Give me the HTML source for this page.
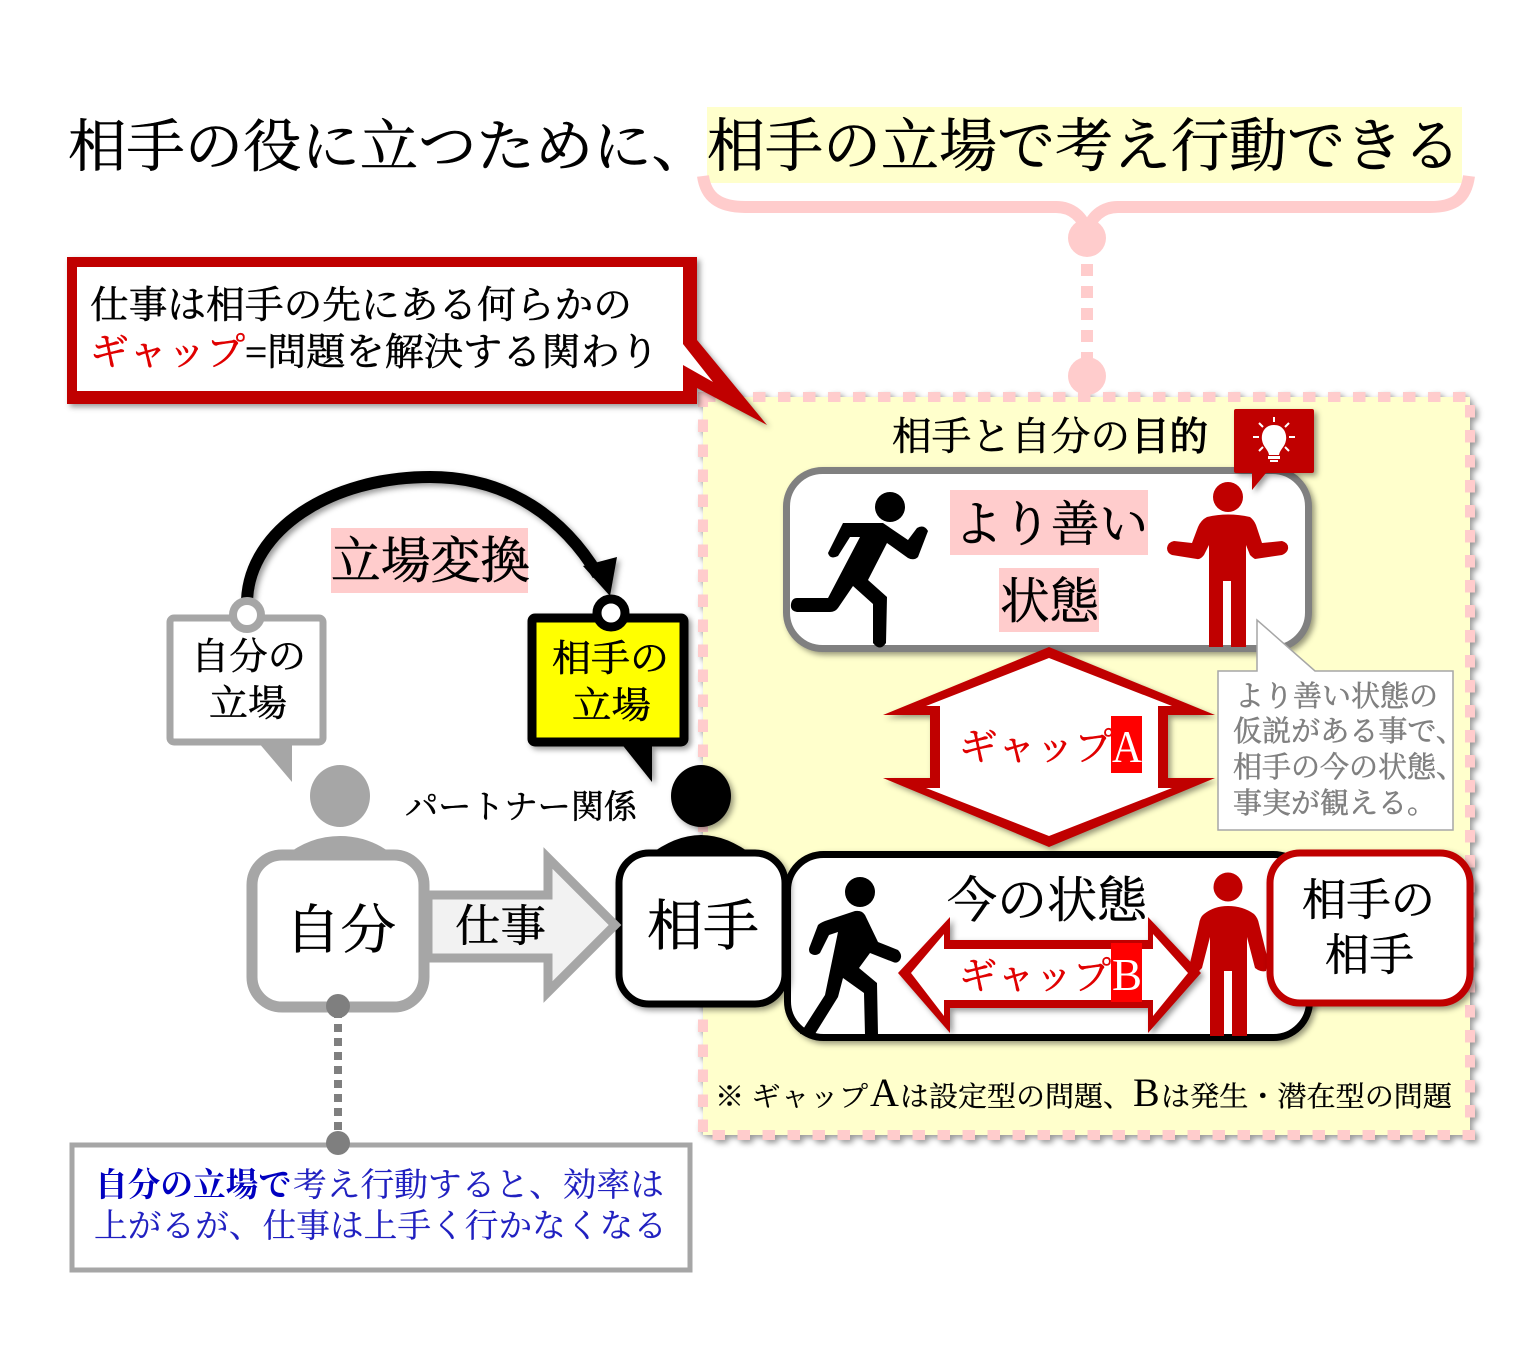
<!DOCTYPE html>
<html><head><meta charset="utf-8"><style>
html,body{margin:0;padding:0;background:#fff}
svg{display:block}
text{font-family:"Liberation Serif","Noto Serif CJK SC","Noto Serif CJK JP",serif;fill:currentColor;stroke:currentColor;stroke-width:.55;color:#000}
.s{filter:drop-shadow(3px 3px 3px rgba(0,0,0,.4))}
</style></head><body>
<svg width="1522" height="1350" viewBox="0 0 1522 1350" xmlns="http://www.w3.org/2000/svg">
<rect width="1522" height="1350" fill="#fff"/>
<!-- title -->
<rect x="707" y="107" width="755" height="76" fill="#ffffcc"/>
<text x="68" y="166" font-size="57" textLength="642" lengthAdjust="spacingAndGlyphs">相手の役に立つために、</text>
<text x="707" y="166" font-size="58" textLength="754" lengthAdjust="spacingAndGlyphs">相手の立場で考え行動できる</text>
<!-- brace -->
<path d="M703 176C706 198 720 207 745 207H1056C1072 207 1083 217 1087 232C1091 217 1102 207 1118 207H1430C1455 207 1466 198 1469 176" fill="none" stroke="#ffcccc" stroke-width="12"/>
<!-- panel -->
<g class="s"><rect x="703" y="397" width="767" height="738" fill="#ffffcc" stroke="#ffcccc" stroke-width="10" stroke-dasharray="12.500 12.500"/></g>
<circle cx="1087" cy="238" r="19" fill="#ffcccc"/>
<line x1="1087" y1="264" x2="1087" y2="358" stroke="#ffcccc" stroke-width="12" stroke-dasharray="12 10"/>
<circle cx="1087" cy="376" r="19" fill="#ffcccc"/>
<!-- callout -->
<g class="s"><path d="M67 257H697V340L767 425L697 388V404H67Z" fill="#c00000"/></g>
<path d="M77 267H683V344L713 382L683 365V391H77Z" fill="#fff"/>
<text x="90" y="318" font-size="38" textLength="542" lengthAdjust="spacingAndGlyphs">仕事は相手の先にある何らかの</text>
<text x="90" y="365" font-size="38" textLength="155" lengthAdjust="spacingAndGlyphs" style="color:#e00000">ギャップ</text>
<text x="245" y="365" font-size="38" textLength="414" lengthAdjust="spacingAndGlyphs">=問題を解決する関わり</text>
<text x="892" y="450" font-size="39" textLength="238" lengthAdjust="spacingAndGlyphs">相手と自分の</text>
<text x="1131" y="450" font-size="39" textLength="77" lengthAdjust="spacingAndGlyphs" style="stroke-width:1.2">目的</text>
<!-- upper box -->
<g class="s"><rect x="786.500" y="470.500" width="522" height="178" rx="36" fill="#fff" stroke="#808080" stroke-width="7"/></g>
<rect x="950" y="490" width="198" height="65" fill="#ffcccc"/>
<rect x="999" y="568" width="100" height="64" fill="#ffcccc"/>
<text x="954" y="541" font-size="49" textLength="194" lengthAdjust="spacingAndGlyphs">より善い</text>
<text x="1000" y="618" font-size="49" textLength="99" lengthAdjust="spacingAndGlyphs">状態</text>
<!-- runner -->
<circle cx="890" cy="507" r="15" fill="#000"/>
<path d="M843 523H883L908 540L917 528Q924 524 928 531L918 557Q914 561 908 558L887 543L868 580L887 597L886 643Q880 652 873 643L873 604L853 586L838 608Q835 612 830 612H797Q790 611 791 604Q792 598 797 598H828L860 537H850L838 556Q830 560 828 553Z" fill="#000"/>
<!-- red man shrug -->
<circle cx="1228" cy="497" r="15" fill="#c00000"/>
<path d="M1207 517Q1228 512 1250 517Q1254 520 1256 525L1262 543L1282 541Q1289 543 1288 549Q1287 553 1282 555L1255 559Q1253 558 1250 555L1246 545V647H1231V581H1223V647H1209V545L1204 555Q1200 560 1197 559L1172 555Q1167 553 1167 548Q1168 542 1174 541L1192 543L1198 527Q1201 520 1207 517Z" fill="#c00000"/>
<!-- bulb -->
<g class="s"><path d="M1236 409H1312Q1314 409 1314 411V471Q1314 473 1312 473H1266L1252 490V473H1236Q1234 473 1234 471V411Q1234 409 1236 409Z" fill="#c00000"/></g>
<path d="M1274 425C1264 425 1261 434 1262 440C1263 447 1268 449 1269 455H1279C1280 449 1285 447 1286 440C1287 434 1284 425 1274 425Z" fill="#fff"/>
<rect x="1268" y="456" width="12" height="3" fill="#fff"/><rect x="1270" y="460" width="8" height="2" fill="#fff"/>
<g stroke="#fff" stroke-width="2"><line x1="1274" y1="417" x2="1274" y2="422"/><line x1="1253" y1="437" x2="1259" y2="437"/><line x1="1289" y1="437" x2="1295" y2="437"/><line x1="1259" y1="423" x2="1263" y2="427"/><line x1="1289" y1="423" x2="1285" y2="427"/><line x1="1259" y1="451" x2="1263" y2="447"/><line x1="1289" y1="451" x2="1285" y2="447"/></g>
<!-- arrow A -->
<g class="s"><path d="M1049 647L1215 715H1168V778H1215L1049 847L883 778H930V715H883Z" fill="#c00000"/></g>
<path d="M1049 658L1172 706H1158V788H1172L1049 836L926 788H940V706H926Z" fill="#fff"/>
<text x="959" y="760" font-size="38" textLength="154" lengthAdjust="spacingAndGlyphs" style="color:#e00000">ギャップ</text>
<rect x="1111" y="716" width="31" height="57" fill="#ff0000"/>
<text x="1112" y="762" font-size="46" textLength="30" lengthAdjust="spacingAndGlyphs" style="color:#fff;stroke-width:0">A</text>
<!-- note -->
<path d="M1218 671H1257V620L1315 671H1453V830H1218Z" fill="#fff" stroke="#a6a6a6" stroke-width="1.500"/>
<text x="1235" y="706" font-size="29" textLength="203" lengthAdjust="spacingAndGlyphs" style="color:#808080">より善い状態の</text>
<text x="1233" y="741" font-size="29" textLength="232" lengthAdjust="spacingAndGlyphs" style="color:#808080">仮説がある事で、</text>
<text x="1233" y="777" font-size="29" textLength="232" lengthAdjust="spacingAndGlyphs" style="color:#808080">相手の今の状態、</text>
<text x="1233" y="813" font-size="29" textLength="203" lengthAdjust="spacingAndGlyphs" style="color:#808080">事実が観える。</text>
<!-- lower box -->
<g class="s"><rect x="787.500" y="854.500" width="522" height="183" rx="36" fill="#fff" stroke="#000" stroke-width="7"/></g>
<text x="947" y="917" font-size="49" textLength="200" lengthAdjust="spacingAndGlyphs">今の状態</text>
<!-- walker -->
<circle cx="860" cy="892" r="15" fill="#000"/>
<path d="M855 911Q862 910 865 915L878 942L898 950Q903 955 900 960Q897 964 893 962L870 953L859 968L877 983L878 1035H865L864 993L843 978L838 997L815 1034H800L825 995L838 932L829 935L820 953Q815 957 810 953Q808 950 810 946L818 925Q820 923 825 921Z" fill="#000"/>
<!-- arrow B -->
<g class="s"><path d="M898 973L950 917V940H1148V917L1201 973L1148 1033V1008H950V1033Z" fill="#c00000"/></g>
<path d="M911 973L944 934V949H1153V934L1188 973L1153 1016V1000H944V1016Z" fill="#fff"/>
<text x="959" y="989" font-size="38" textLength="152" lengthAdjust="spacingAndGlyphs" style="color:#e00000">ギャップ</text>
<rect x="1111" y="943" width="31" height="59" fill="#ff0000"/>
<text x="1112" y="990" font-size="46" textLength="30" lengthAdjust="spacingAndGlyphs" style="color:#fff;stroke-width:0">B</text>
<!-- red man 2 -->
<circle cx="1228" cy="887" r="14.500" fill="#c00000"/>
<path d="M1228 906Q1243 906 1254 914Q1258 918 1259 924L1268 960L1266 971Q1262 972 1258 970L1255 968L1247 937V1036H1232V971H1224V1036H1210V937L1202 968L1197 973L1190 963L1199 924Q1200 917 1204 914Q1214 906 1228 906Z" fill="#c00000"/>
<!-- 相手の相手 -->
<g class="s"><rect x="1270" y="853" width="200" height="150" rx="30" fill="#fff" stroke="#c00000" stroke-width="7"/></g>
<text x="1302" y="915" font-size="44" textLength="133" lengthAdjust="spacingAndGlyphs">相手の</text>
<text x="1325" y="970" font-size="44" textLength="89" lengthAdjust="spacingAndGlyphs">相手</text>
<!-- left people -->
<ellipse cx="340" cy="796" rx="30" ry="31" fill="#a6a6a6"/>
<path d="M285 856Q310 836 340 836Q370 836 395 856Z" fill="#a6a6a6"/>
<g class="s"><ellipse cx="701" cy="796" rx="30" ry="31" fill="#000"/>
<path d="M648 856Q675 835 701 835Q727 835 754 856Z" fill="#000"/></g>
<g class="s"><rect x="619" y="853" width="166" height="151" rx="30" fill="#fff" stroke="#000" stroke-width="7"/></g>
<text x="647" y="945" font-size="55" textLength="112" lengthAdjust="spacingAndGlyphs">相手</text>
<!-- work arrow -->
<path d="M428 895H548V858L615 925L548 992V958H428Z" fill="#f2f2f2" stroke="#a6a6a6" stroke-width="9"/>
<text x="455" y="941" font-size="44" textLength="91" lengthAdjust="spacingAndGlyphs">仕事</text>
<rect x="252" y="855" width="172" height="152" rx="30" fill="#fff" stroke="#a6a6a6" stroke-width="11"/>
<text x="285" y="948" font-size="53" textLength="111" lengthAdjust="spacingAndGlyphs">自分</text>
<!-- bubbles -->
<path d="M292 742V782L258 742Z" fill="#a6a6a6"/>
<rect x="170" y="618" width="153" height="124" rx="4" fill="#fff" stroke="#a6a6a6" stroke-width="7"/>
<text x="191" y="669" font-size="37" textLength="115" lengthAdjust="spacingAndGlyphs">自分の</text>
<text x="209" y="716" font-size="37" textLength="78" lengthAdjust="spacingAndGlyphs">立場</text>
<g class="s"><path d="M652 742V782L620 742Z" fill="#000"/><rect x="532" y="618" width="152" height="124" rx="3" fill="#ffff00" stroke="#000" stroke-width="9"/></g>
<text x="552" y="671" font-size="37" textLength="117" lengthAdjust="spacingAndGlyphs">相手の</text>
<text x="572" y="718" font-size="37" textLength="79" lengthAdjust="spacingAndGlyphs">立場</text>
<!-- curve -->
<g class="s"><path d="M247 600C250 530 330 477 430 477C510 477 565 520 598 575" fill="none" stroke="#000" stroke-width="12"/>
<path d="M583 566L617 557L610 596Z" fill="#000"/></g>
<circle cx="247" cy="615" r="14" fill="#fff" stroke="#a6a6a6" stroke-width="8"/>
<circle cx="611" cy="613" r="14" fill="#fff" stroke="#000" stroke-width="9"/>
<rect x="331" y="528" width="197" height="65" fill="#ffcccc"/>
<text x="331" y="578" font-size="50" textLength="199" lengthAdjust="spacingAndGlyphs">立場変換</text>
<text x="405" y="818" font-size="33" textLength="232" lengthAdjust="spacingAndGlyphs">パートナー関係</text>
<!-- bottom -->
<line x1="338" y1="1010" x2="338" y2="1140" stroke="#7f7f7f" stroke-width="8" stroke-dasharray="8 6"/>
<circle cx="338" cy="1006" r="12" fill="#7f7f7f"/>
<rect x="72" y="1145" width="618" height="125" fill="#fff" stroke="#a6a6a6" stroke-width="5"/>
<circle cx="338" cy="1143" r="12" fill="#7f7f7f"/>
<text x="95" y="1196" font-size="33" font-weight="700" textLength="196" lengthAdjust="spacingAndGlyphs" style="color:#0000c0;stroke-width:0">自分の立場で</text>
<text x="293" y="1196" font-size="33" textLength="371" lengthAdjust="spacingAndGlyphs" style="color:#2020c0;stroke-width:.2">考え行動すると、効率は</text>
<text x="94" y="1237" font-size="33" textLength="573" lengthAdjust="spacingAndGlyphs" style="color:#2020c0;stroke-width:.2">上がるが、仕事は上手く行かなくなる</text>
<!-- footnote -->
<text x="715" y="1106" font-size="28" textLength="153" lengthAdjust="spacingAndGlyphs" style="stroke-width:.2">※ ギャップ</text>
<text x="870" y="1106" font-size="40" style="stroke-width:0">A</text>
<text x="900" y="1106" font-size="28" textLength="232" lengthAdjust="spacingAndGlyphs" style="stroke-width:.3">は設定型の問題、</text>
<text x="1133" y="1106" font-size="40" style="stroke-width:0">B</text>
<text x="1161" y="1106" font-size="28" textLength="291" lengthAdjust="spacingAndGlyphs" style="stroke-width:.3">は発生・潜在型の問題</text>
</svg>
</body></html>
